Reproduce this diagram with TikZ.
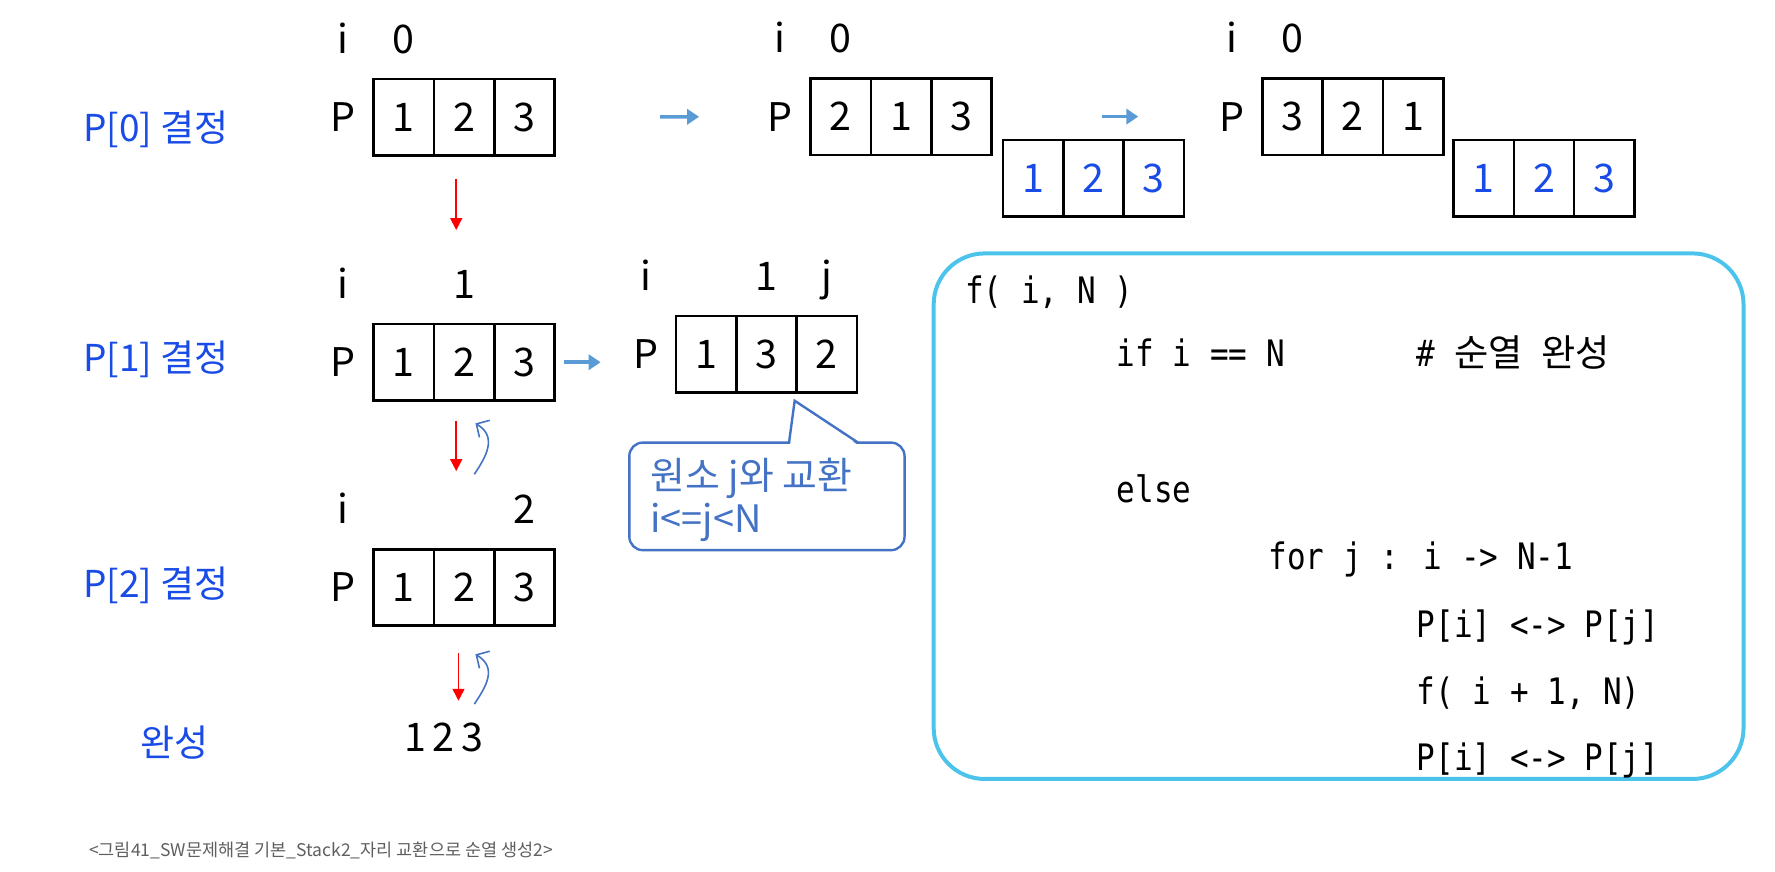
\documentclass[tikz,border=0pt]{standalone}
\usepackage{fontspec}
\setmainfont{Noto Sans CJK KR}
\newfontfamily\codefont[FakeStretch=0.85]{DejaVu Sans Mono}
\newfontfamily\krfont{Noto Sans CJK KR}
\newcommand\krw[1]{{\krfont\fontsize{9.36}{11}\selectfont #1}}
\usepackage{tikz}
\usetikzlibrary{arrows.meta, positioning}
\definecolor{rowblue}{RGB}{25,75,230}
\definecolor{stepblue}{RGB}{91,155,213}
\definecolor{noteblue}{RGB}{68,114,196}
\definecolor{codecyan}{RGB}{75,195,235}
\definecolor{capgray}{RGB}{95,95,95}

\begin{document}
\begin{tikzpicture}[x=0.01cm, y=-0.01cm,
        cell/.style={draw, line width=0.65pt, minimum width=0.533cm, minimum height=0.675cm, inner sep=0pt, outer sep=0pt, font=\fontsize{9.9}{11}\selectfont},
        pcell/.style={cell, text=rowblue},
        lbl/.style={inner sep=0pt, text depth=0pt, font=\fontsize{9.9}{11}\selectfont},
        rowlbl/.style={anchor=base west, inner sep=0pt, text=rowblue, font=\fontsize{9.3}{11}\selectfont},
        toswap/.style={stepblue, line width=0.9pt, -{Triangle[length=3pt, width=3.8pt]}},
        godown/.style={red, line width=0.4pt, -{Triangle[length=3pt, width=3pt]}},
        goback/.style={noteblue, line width=0.4pt, -{Straight Barb[length=2.4pt, width=5pt]}},
        note/.style={draw=noteblue, line width=0.6pt, rounded corners=0.12cm, inner sep=0pt},
        notetext/.style={anchor=base west, inner sep=0pt, text=noteblue, font=\fontsize{9.5}{11}\selectfont},
        codebox/.style={draw=codecyan, line width=1pt, rounded corners=0.45cm, inner sep=0pt},
        codeline/.style={anchor=base west, inner sep=0pt, font=\codefont\fontsize{9.15}{11}\selectfont}]
        \useasboundingbox (0,0) rectangle (1568,770);

        % row titles
        \node[rowlbl] (r0) at (73,125) {P[0] 결정};
        \node[rowlbl] (r1) at (73,328) {P[1] 결정};
        \node[rowlbl] (r2) at (73,528) {P[2] 결정};
        \node[rowlbl] (r3) at (123,668) {완성};

        % P[0]
        \node[cell] (a1) at (356.7,103.5) {1};
        \node[cell, right=0pt of a1] (a2) {2};
        \node[cell, right=0pt of a2] (a3) {3};
        \node[lbl, left=0.15cm of a1] (pA) {P};
        \node[lbl, above=0.22cm of a1] (vA) {0};
        \node[lbl, anchor=base] (iA) at (pA |- vA.base) {i};

        \node[cell] (b1) at (742.7,103) {2};
        \node[cell, right=0pt of b1] (b2) {1};
        \node[cell, right=0pt of b2] (b3) {3};
        \node[lbl, left=0.15cm of b1] (pB) {P};
        \node[lbl, above=0.22cm of b1] (vB) {0};
        \node[lbl, anchor=base] (iB) at (pB |- vB.base) {i};

        \node[pcell] (bx1) at (912.6,157.5) {1};
        \node[pcell, right=0pt of bx1] (bx2) {2};
        \node[pcell, right=0pt of bx2] (bx3) {3};

        \node[cell] (c1) at (1141.7,103) {3};
        \node[cell, right=0pt of c1] (c2) {2};
        \node[cell, right=0pt of c2] (c3) {1};
        \node[lbl, left=0.15cm of c1] (pC) {P};
        \node[lbl, above=0.22cm of c1] (vC) {0};
        \node[lbl, anchor=base] (iC) at (pC |- vC.base) {i};

        \node[pcell] (cx1) at (1310.6,157.5) {1};
        \node[pcell, right=0pt of cx1] (cx2) {2};
        \node[pcell, right=0pt of cx2] (cx3) {3};

        % P[1]
        \node[cell] (d1) at (356.7,320) {1};
        \node[cell, right=0pt of d1] (d2) {2};
        \node[cell, right=0pt of d2] (d3) {3};
        \node[lbl, left=0.15cm of d1] (pD) {P};
        \node[lbl, above=0.22cm of d2] (vD) {1};
        \node[lbl, anchor=base] (iD) at (pD |- vD.base) {i};

        \node[cell] (e1) at (623.7,313) {1};
        \node[cell, right=0pt of e1] (e2) {3};
        \node[cell, right=0pt of e2] (e3) {2};
        \node[lbl, left=0.15cm of e1] (pE) {P};
        \node[lbl, above=0.22cm of e2] (vE) {1};
        \node[lbl, above=0.22cm of e3] (jE) {j};
        \node[lbl, anchor=base] (iE) at (pE |- vE.base) {i};

        % P[2]
        \node[cell] (f1) at (356.7,519) {1};
        \node[cell, right=0pt of f1] (f2) {2};
        \node[cell, right=0pt of f2] (f3) {3};
        \node[lbl, left=0.15cm of f1] (pF) {P};
        \node[lbl, above=0.22cm of f3] (vF) {2};
        \node[lbl, anchor=base] (iF) at (pF |- vF.base) {i};

        \node[lbl, anchor=base] (res) at (392,664) {1\,2\,3};

        % swaps
        \draw[toswap, shorten <=0.93cm, shorten >=0.6cm] (a3.east) -- (pB.west);
        \draw[toswap, shorten <=0.97cm, shorten >=0.71cm] (b3.east) -- (pC.west);
        \draw[toswap, shorten <=0.08cm, shorten >=0.28cm] (d3.east) -- (d3.east -| pE.west);

        % down and back
        \draw[godown, shorten <=0.21cm, shorten >=0.83cm] ([xshift=-0.07cm]a2.south) -- ([xshift=-0.07cm]d2.north);
        \draw[godown, shorten <=0.18cm, shorten >=0.69cm] ([xshift=-0.07cm]d2.south) -- ([xshift=-0.07cm]f2.north);
        \coordinate (fr) at ([xshift=-0.05cm]f2.south);
        \draw[godown, shorten <=0.24cm, shorten >=0.19cm] (fr) -- (fr |- res.north);

        \coordinate (bk1s) at (419,419);
        \coordinate (bk1e) at (420,374);
        \draw[goback] (bk1s) .. controls +(10,-15) and +(20,12) .. (bk1e);
        \coordinate (bk2s) at (419,622);
        \coordinate (bk2e) at (420,578);
        \draw[goback] (bk2s) .. controls +(10,-15) and +(20,12) .. (bk2e);

        % callout
        \node[note, minimum width=2.43cm, minimum height=0.95cm] (note) at (677.5,438.5) {};
        \fill[white] (698,392.5) -- (702,354) -- (757,392.5) -- cycle;
        \draw[noteblue, line width=0.6pt] (697,391) -- (702,354) -- (758,391);
        \node[notetext] (nt1) at (574,432) {원소 j와 교환};
        \node[notetext] (nt2) at (574,470) {i<=j<N};

        % code
        \node[codebox, minimum width=7.15cm, minimum height=4.64cm] (code) at (1182.5,456) {};
        \node[codeline] (k1) at (852,268) {f( i, N )};
        \node[codeline] (k2) at (986,324) {if i == N};
        \node[codeline] (k2c) at (1251,324) {\#\ \krw{순열}\ \krw{완성}};
        \node[codeline] (k3) at (986,444) {else};
        \node[codeline] (k4) at (1120,503) {for j : i -> N-1};
        \node[codeline] (k5) at (1251,563) {P[i] <-> P[j]};
        \node[codeline] (k6) at (1251,622) {f( i + 1, N)};
        \node[codeline] (k7) at (1251,681) {P[i] <-> P[j]};

        \node[anchor=base west, inner sep=0pt, text=capgray, font=\fontsize{4.4}{6}\selectfont] (cap) at (78,757) {<그림41\_SW문제해결 기본\_Stack2\_자리 교환으로 순열 생성2>};
    \end{tikzpicture}
\end{document}
